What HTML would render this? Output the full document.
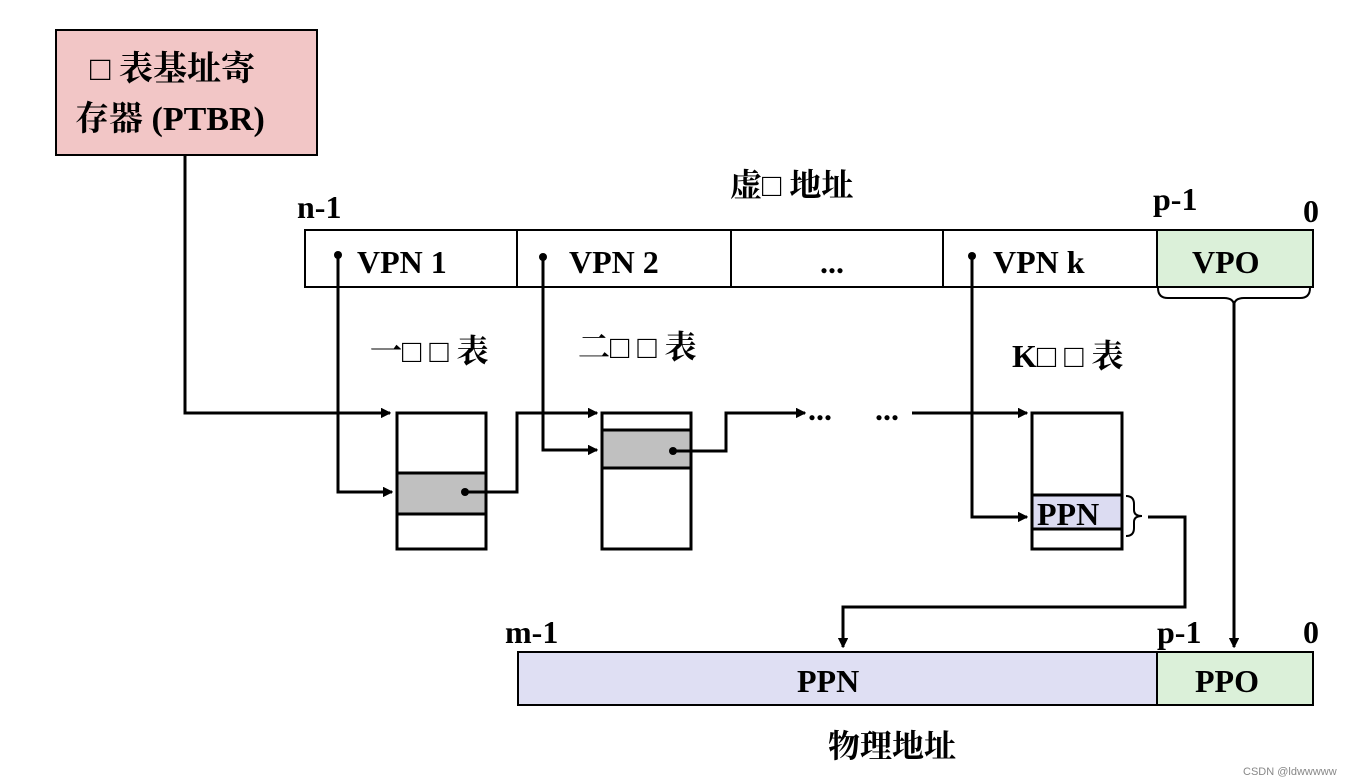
<!DOCTYPE html>
<html><head><meta charset="utf-8"><style>
body{margin:0;background:#fff;}
svg{display:block;}
text{font-family:"Liberation Serif","Noto Serif CJK SC","Noto Sans CJK SC",serif;font-weight:bold;fill:#000;}
</style></head><body>
<svg width="1361" height="784" viewBox="0 0 1361 784" xmlns="http://www.w3.org/2000/svg">
<defs><marker id="a" markerWidth="10" markerHeight="10" refX="9" refY="5" orient="auto" markerUnits="userSpaceOnUse"><path d="M0,0 L10,5 L0,10 z" fill="#000" transform="scale(1.3) translate(-2,-1.2)"/></marker></defs>
<g stroke="#000" stroke-width="2" fill="none">
<rect x="56" y="30" width="261" height="125" fill="#f2c6c6"/>
<rect x="305" y="230" width="1008" height="57" fill="#fff"/>
<rect x="1157" y="230" width="156" height="57" fill="#dbf0d9"/>
<line x1="517" y1="230" x2="517" y2="287"/><line x1="731" y1="230" x2="731" y2="287"/><line x1="943" y1="230" x2="943" y2="287"/>
<rect x="518" y="652" width="795" height="53" fill="#dfdff3"/>
<rect x="1157" y="652" width="156" height="53" fill="#dbf0d9"/>
<rect x="397" y="413" width="89" height="136" stroke-width="3"/>
<rect x="397" y="473" width="89" height="41" fill="#c0c0c0" stroke-width="3"/>
<rect x="602" y="413" width="89" height="136" stroke-width="3"/>
<rect x="602" y="430" width="89" height="38" fill="#c0c0c0" stroke-width="3"/>
<rect x="1032" y="413" width="90" height="136" stroke-width="3"/>
<rect x="1032" y="495" width="90" height="34" fill="#dcdcf2" stroke-width="3"/>
<path d="M1158,288 q0,10 10,10 h56 q10,0 10,8 q0,-8 10,-8 h56 q10,0 10,-10" stroke-width="2"/>
<path d="M1126,496 q8,0 8,8 v6 q0,6 8,6 q-8,0 -8,6 v6 q0,8 -8,8" stroke-width="2"/>
</g>
<g stroke="#000" stroke-width="3" fill="none">
<path d="M185,155 V413 H390" marker-end="url(#a)"/>
<path d="M338,256 V492 H392" marker-end="url(#a)"/>
<path d="M465,492 H517 V413 H597" marker-end="url(#a)"/>
<path d="M543,257 V450 H597" marker-end="url(#a)"/>
<path d="M673,451 H726 V413 H805" marker-end="url(#a)"/>
<path d="M912,413 H1027" marker-end="url(#a)"/>
<path d="M972,256 V517 H1027" marker-end="url(#a)"/>
<path d="M1148,517 H1185 V607 H843 V647" marker-end="url(#a)"/>
<path d="M1234,301 V647" marker-end="url(#a)"/>
</g>
<g fill="#000"><circle cx="338" cy="255" r="4"/><circle cx="543" cy="257" r="4"/><circle cx="972" cy="256" r="4"/><circle cx="465" cy="492" r="4"/><circle cx="673" cy="451" r="4"/></g>
<g font-size="34">
<text x="90" y="80">□ 表基址寄</text>
<text x="75" y="130">存器 (PTBR)</text>
</g>
<g font-size="32">
<text x="730" y="196">虚□ 地址</text>
<text x="297" y="218">n-1</text>
<text x="1153" y="210">p-1</text>
<text x="1303" y="222">0</text>
<text x="357" y="273">VPN 1</text>
<text x="569" y="273">VPN 2</text>
<text x="820" y="273">...</text>
<text x="993" y="273">VPN k</text>
<text x="1192" y="273">VPO</text>
<text x="370" y="362">一□ □ 表</text>
<text x="578" y="358">二□ □ 表</text>
<text x="1012" y="367">K□ □ 表</text>
<text x="808" y="420">...</text>
<text x="875" y="420">...</text>
<text x="1037" y="525">PPN</text>
<text x="505" y="643">m-1</text>
<text x="1157" y="643">p-1</text>
<text x="1303" y="643">0</text>
<text x="797" y="692">PPN</text>
<text x="1195" y="692">PPO</text>
<text x="828" y="757">物理地址</text>
</g>
<text x="1243" y="775" font-size="11" style="font-family:'Liberation Sans',sans-serif;font-weight:normal;fill:#888">CSDN @ldwwwww</text>
</svg>
</body></html>
